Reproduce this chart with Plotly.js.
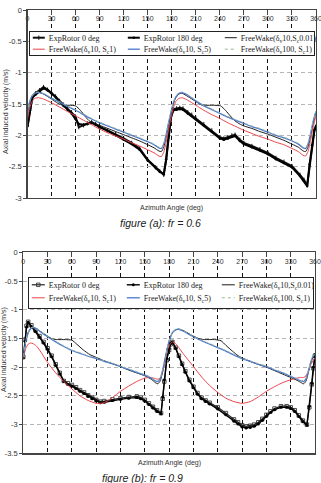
<!DOCTYPE html>
<html>
<head>
<meta charset="utf-8">
<script src="https://cdn.plot.ly/plotly-3.0.1.min.js"></script>
<style>
  html, body { margin: 0; padding: 0; background: #fff; }
  #chartA { width: 321px; height: 240px; }
  #chartB { width: 321px; height: 243px; }
</style>
</head>
<body>
<div id="chartA"></div>
<div id="chartB"></div>
<script>
// ---- axis ticks ----
const angleTicks = [0, 30, 60, 90, 120, 150, 180, 210, 240, 270, 300, 330, 360];
const angleTickText = ['0', '30', '60', '90', '120', '150', '180', '210', '240', '270', '300', '330', '360'];
const velTicksA = [-3, -2.5, -2, -1.5, -1, -0.5, 0];
const velTickTextA = ['-3', '-2.5', '-2', '-1.5', '-1', '-0.5', '0'];
const velTicksB = [-3.5, -3, -2.5, -2, -1.5, -1, -0.5, 0];
const velTickTextB = ['-3.5', '-3', '-2.5', '-2', '-1.5', '-1', '-0.5', '0'];

// ---- series names ----
const seriesNames = [
  'ExpRotor 0 deg',
  'ExpRotor 180 deg',
  'FreeWake(δ<sub>v</sub>10,S<sub>c</sub>0.01)',
  'FreeWake(δ<sub>v</sub>10, S<sub>c</sub>1)',
  'FreeWake(δ<sub>v</sub>10, S<sub>c</sub>5)',
  'FreeWake(δ<sub>v</sub>100, S<sub>c</sub>1)'
];
const captionA = 'figure (a): fr = 0.6';
const captionB = 'figure (b): fr = 0.9';
const xTitle = 'Azimuth Angle (deg)';
const yTitle = 'Axial induced velocity (m/s)';

// ================= figure (a): fr = 0.6 =================
const expDegA = [0,3,6,10,15,20,25,30,35,40,45,50,55,60,64,70,75,80,85,90,100,110,120,130,140,150,160,165,170,173,176,179,182,186,190,194,200,205,210,220,230,240,245,250,255,259,265,270,280,290,300,310,320,330,340,345,349,352,355,358,360];
const expA0 = [-1.87,-1.62,-1.39,-1.33,-1.28,-1.23,-1.27,-1.32,-1.38,-1.45,-1.51,-1.57,-1.63,-1.70,-1.87,-1.84,-1.81,-1.79,-1.82,-1.86,-1.92,-1.98,-2.05,-2.12,-2.21,-2.39,-2.51,-2.57,-2.63,-2.40,-2.05,-1.72,-1.58,-1.57,-1.56,-1.57,-1.63,-1.67,-1.72,-1.82,-1.92,-2.03,-2.05,-2.03,-2.00,-1.99,-2.07,-2.12,-2.17,-2.22,-2.28,-2.36,-2.42,-2.49,-2.63,-2.71,-2.80,-2.48,-2.18,-1.93,-1.86];
const expA180 = [-1.85,-1.60,-1.40,-1.35,-1.30,-1.25,-1.28,-1.33,-1.39,-1.46,-1.53,-1.59,-1.65,-1.74,-1.82,-1.83,-1.81,-1.80,-1.83,-1.87,-1.93,-2.00,-2.07,-2.14,-2.23,-2.40,-2.52,-2.58,-2.62,-2.38,-2.02,-1.70,-1.60,-1.59,-1.58,-1.59,-1.65,-1.69,-1.74,-1.84,-1.94,-2.05,-2.07,-2.05,-2.02,-2.01,-2.09,-2.14,-2.19,-2.24,-2.30,-2.38,-2.44,-2.51,-2.65,-2.73,-2.81,-2.46,-2.16,-1.91,-1.85];

const fwS001DegA = [0,2,5,9,14,20,30,38,44,52,60,66,72,78,85,90,100,110,120,130,140,150,158,164,167,170,173,176,179,182,185,189,193,200,210,216,222,232,241,247,253,259,265,270,280,290,300,310,320,330,338,344,347,350,353,356,359,360];
const fwS001A = [-1.68,-1.51,-1.39,-1.32,-1.31,-1.34,-1.42,-1.49,-1.52,-1.52,-1.53,-1.60,-1.70,-1.78,-1.82,-1.84,-1.89,-1.94,-1.99,-2.04,-2.09,-2.15,-2.20,-2.25,-2.26,-2.19,-2.03,-1.84,-1.66,-1.50,-1.40,-1.34,-1.33,-1.38,-1.46,-1.51,-1.52,-1.52,-1.53,-1.60,-1.69,-1.77,-1.82,-1.85,-1.89,-1.94,-1.98,-2.03,-2.08,-2.14,-2.19,-2.25,-2.26,-2.19,-2.03,-1.84,-1.68,-1.64];

const fwDegA = [0,2,5,9,14,20,30,40,50,60,70,80,90,100,110,120,130,140,150,158,164,167,170,173,176,179,182,185,189,193,200,210,220,230,240,250,260,270,280,290,300,310,320,330,338,344,347,350,353,356,359,360];
const fwS1A = [-1.74,-1.60,-1.48,-1.41,-1.40,-1.42,-1.48,-1.55,-1.62,-1.69,-1.76,-1.83,-1.90,-1.96,-2.01,-2.06,-2.12,-2.17,-2.23,-2.28,-2.33,-2.34,-2.27,-2.11,-1.91,-1.72,-1.56,-1.46,-1.41,-1.40,-1.44,-1.52,-1.60,-1.67,-1.73,-1.80,-1.86,-1.92,-1.97,-2.02,-2.06,-2.11,-2.15,-2.21,-2.26,-2.32,-2.33,-2.26,-2.10,-1.90,-1.74,-1.70];
const fwS5A = [-1.66,-1.50,-1.39,-1.33,-1.32,-1.34,-1.41,-1.47,-1.54,-1.60,-1.67,-1.74,-1.80,-1.85,-1.90,-1.95,-2.00,-2.05,-2.10,-2.15,-2.20,-2.21,-2.14,-1.99,-1.80,-1.63,-1.48,-1.39,-1.33,-1.32,-1.36,-1.45,-1.53,-1.59,-1.65,-1.71,-1.76,-1.81,-1.86,-1.90,-1.95,-2.00,-2.04,-2.09,-2.14,-2.20,-2.21,-2.14,-1.99,-1.80,-1.66,-1.62];
const fwD100A = [-1.65,-1.49,-1.38,-1.32,-1.31,-1.33,-1.40,-1.46,-1.53,-1.59,-1.66,-1.73,-1.79,-1.84,-1.89,-1.94,-1.99,-2.04,-2.09,-2.14,-2.19,-2.20,-2.13,-1.98,-1.79,-1.62,-1.47,-1.38,-1.32,-1.31,-1.35,-1.44,-1.52,-1.58,-1.64,-1.70,-1.75,-1.80,-1.85,-1.89,-1.94,-1.99,-2.03,-2.08,-2.13,-2.19,-2.20,-2.13,-1.98,-1.79,-1.65,-1.61];

// ================= figure (b): fr = 0.9 =================
const expDegB = [0,2,4,6,10,15,20,25,30,35,40,45,50,55,60,65,70,75,80,85,90,95,100,110,120,130,140,145,150,155,160,165,170,172,174,177,180,182,184,188,192,196,200,205,210,215,220,225,230,240,250,260,265,270,275,280,285,290,295,300,305,310,318,325,330,335,340,345,350,353,356,358,360];
const expB0 = [-1.82,-1.52,-1.28,-1.21,-1.27,-1.36,-1.46,-1.56,-1.67,-1.80,-1.95,-2.10,-2.24,-2.28,-2.31,-2.35,-2.40,-2.44,-2.49,-2.53,-2.57,-2.60,-2.59,-2.56,-2.54,-2.52,-2.51,-2.53,-2.57,-2.63,-2.69,-2.75,-2.80,-2.55,-2.25,-1.88,-1.70,-1.60,-1.56,-1.66,-1.80,-1.94,-2.07,-2.22,-2.34,-2.45,-2.53,-2.58,-2.62,-2.70,-2.80,-2.91,-2.96,-3.01,-3.03,-3.02,-3.00,-2.96,-2.90,-2.83,-2.77,-2.72,-2.68,-2.68,-2.70,-2.75,-2.84,-2.93,-3.00,-2.70,-2.30,-2.02,-1.80];
const expB180 = [-1.84,-1.55,-1.30,-1.22,-1.29,-1.38,-1.48,-1.58,-1.69,-1.82,-1.97,-2.12,-2.25,-2.30,-2.33,-2.37,-2.42,-2.46,-2.51,-2.55,-2.59,-2.62,-2.61,-2.58,-2.56,-2.54,-2.53,-2.55,-2.59,-2.65,-2.71,-2.77,-2.81,-2.52,-2.22,-1.85,-1.68,-1.59,-1.56,-1.67,-1.82,-1.96,-2.09,-2.24,-2.36,-2.47,-2.55,-2.60,-2.64,-2.73,-2.83,-2.94,-2.99,-3.04,-3.06,-3.05,-3.03,-2.99,-2.93,-2.86,-2.79,-2.74,-2.70,-2.70,-2.72,-2.77,-2.86,-2.95,-3.01,-2.68,-2.28,-2.00,-1.78];

const fwS001DegB = [0,3,6,9,12,16,20,30,36,42,52,60,66,74,82,90,100,110,120,130,140,150,158,163,166,169,172,175,178,181,184,188,192,197,210,218,224,236,244,250,258,265,270,280,290,300,310,320,330,338,343,346,349,352,355,358,360];
const fwS001B = [-1.82,-1.55,-1.40,-1.33,-1.31,-1.33,-1.37,-1.46,-1.51,-1.52,-1.52,-1.53,-1.60,-1.70,-1.78,-1.83,-1.89,-1.94,-1.99,-2.05,-2.10,-2.15,-2.21,-2.27,-2.29,-2.24,-2.08,-1.88,-1.66,-1.50,-1.40,-1.35,-1.34,-1.36,-1.46,-1.51,-1.52,-1.52,-1.54,-1.62,-1.72,-1.80,-1.84,-1.90,-1.95,-2.00,-2.06,-2.12,-2.18,-2.23,-2.27,-2.29,-2.24,-2.08,-1.92,-1.82,-1.80];

const fwDegB = [0,3,6,9,12,16,20,30,40,50,60,70,80,90,100,110,120,130,140,150,158,163,166,169,172,175,178,181,184,188,192,197,210,220,230,240,250,260,270,280,290,300,310,320,330,338,343,346,349,352,355,358,360];
const fwS1B = [-1.84,-1.68,-1.60,-1.58,-1.59,-1.63,-1.70,-1.92,-2.10,-2.25,-2.38,-2.50,-2.58,-2.63,-2.62,-2.53,-2.42,-2.33,-2.25,-2.19,-2.18,-2.20,-2.21,-2.19,-2.08,-1.88,-1.70,-1.60,-1.56,-1.59,-1.66,-1.76,-1.99,-2.17,-2.32,-2.44,-2.54,-2.60,-2.63,-2.60,-2.52,-2.42,-2.34,-2.27,-2.22,-2.19,-2.18,-2.18,-2.15,-2.06,-1.95,-1.88,-1.84];
const fwS5B = [-1.82,-1.55,-1.40,-1.33,-1.31,-1.33,-1.37,-1.47,-1.56,-1.64,-1.71,-1.76,-1.81,-1.85,-1.90,-1.94,-1.99,-2.04,-2.09,-2.14,-2.19,-2.24,-2.25,-2.20,-2.05,-1.85,-1.65,-1.50,-1.40,-1.35,-1.34,-1.37,-1.47,-1.54,-1.60,-1.66,-1.72,-1.79,-1.85,-1.90,-1.95,-1.99,-2.05,-2.10,-2.16,-2.21,-2.24,-2.25,-2.20,-2.06,-1.90,-1.80,-1.78];
const fwD100B = [-1.81,-1.54,-1.39,-1.32,-1.30,-1.32,-1.36,-1.46,-1.55,-1.63,-1.70,-1.75,-1.80,-1.84,-1.89,-1.93,-1.98,-2.03,-2.08,-2.13,-2.18,-2.23,-2.24,-2.19,-2.04,-1.84,-1.64,-1.49,-1.39,-1.34,-1.33,-1.36,-1.46,-1.53,-1.59,-1.65,-1.71,-1.78,-1.84,-1.89,-1.94,-1.98,-2.04,-2.09,-2.15,-2.20,-2.23,-2.24,-2.19,-2.05,-1.89,-1.79,-1.77];

// ---- trace styles ----
const styleExp0A  = { mode: 'lines+markers', line: { color: '#111', width: 2 }, marker: { symbol: 'line-ns-open', size: 3, color: '#111', line: { width: 1, color: '#111' } } };
const styleExp180A = { mode: 'lines+markers', line: { color: '#000', width: 2 }, marker: { symbol: 'circle', size: 2.5, color: '#000' } };
const styleExp0B  = { mode: 'lines+markers', line: { color: '#222', width: 1.2 }, marker: { symbol: 'square-open', size: 3.5, color: '#222', line: { width: 0.8, color: '#222' } } };
const styleExp180B = { mode: 'lines+markers', line: { color: '#000', width: 1.4 }, marker: { symbol: 'circle', size: 3, color: '#000' } };
const styleS001 = { mode: 'lines', line: { color: '#1a1a1a', width: 1, shape: 'spline', smoothing: 0.5 } };
const styleS1   = { mode: 'lines', line: { color: '#e8454a', width: 1, shape: 'spline', smoothing: 0.5 } };
const styleS5   = { mode: 'lines', line: { color: '#4a78cc', width: 1.3, shape: 'spline', smoothing: 0.5 } };
const styleD100 = { mode: 'lines', line: { color: '#9db59d', width: 1, dash: '3px,3px', shape: 'spline', smoothing: 0.5 } };

function series(x, y, name, style) {
  return Object.assign({ type: 'scatter', x: x, y: y, name: name, hoverinfo: 'skip' }, style);
}

const dataA = [
  series(expDegA, expA0, seriesNames[0], styleExp0A),
  series(expDegA, expA180, seriesNames[1], styleExp180A),
  series(fwS001DegA, fwS001A, seriesNames[2], styleS001),
  series(fwDegA, fwS1A, seriesNames[3], styleS1),
  series(fwDegA, fwS5A, seriesNames[4], styleS5),
  series(fwDegA, fwD100A, seriesNames[5], styleD100)
];
const dataB = [
  series(expDegB, expB0, seriesNames[0], styleExp0B),
  series(expDegB, expB180, seriesNames[1], styleExp180B),
  series(fwS001DegB, fwS001B, seriesNames[2], styleS001),
  series(fwDegB, fwS1B, seriesNames[3], styleS1),
  series(fwDegB, fwS5B, seriesNames[4], styleS5),
  series(fwDegB, fwD100B, seriesNames[5], styleD100)
];

const W = 321;
const titleFont = { family: 'Liberation Sans, Arial, sans-serif', size: 7, color: '#333' };
const capFont = { family: 'Liberation Sans, Arial, sans-serif', size: 10.5, color: '#222' };

// Builds one panel; all positions are pixels within that panel.
function panelLayout(p) {
  const px = v => v / W;
  const py = v => 1 - v / p.height;
  return {
    width: W, height: p.height, autosize: false,
    margin: { l: 0, r: 0, t: 0, b: 0, pad: 0 },
    paper_bgcolor: '#fff', plot_bgcolor: '#fff',
    font: { family: 'Liberation Sans, Arial, sans-serif', size: 7, color: '#333' },
    showlegend: true,
    xaxis: {
      domain: [px(p.left), px(p.right)], range: [0, 360], side: 'top',
      tickvals: angleTicks, ticktext: angleTickText,
      ticklabelposition: 'inside', ticklabeloverflow: 'allow',
      ticks: 'inside', ticklen: 5, tickwidth: 1, tickcolor: '#444',
      showgrid: true, gridcolor: '#111', griddash: '4px,3px', gridwidth: 1,
      showline: true, linecolor: '#444', linewidth: 1.2, mirror: true, zeroline: false,
      tickfont: { size: 7, color: '#333' }, fixedrange: true
    },
    yaxis: {
      domain: [py(p.bottom), py(p.top)], range: p.yRange,
      tickvals: p.yTicks, ticktext: p.yTickText,
      showgrid: true, gridcolor: '#b5b5b5', griddash: '4px,3px', gridwidth: 1,
      showline: true, linecolor: '#444', linewidth: 1.2, mirror: true, zeroline: false,
      ticks: 'outside', ticklen: 3, tickcolor: '#444',
      tickfont: { size: 7.5, color: '#333' }, fixedrange: true
    },
    legend: {
      orientation: 'h', xanchor: 'left', yanchor: 'top', x: px(p.legX), y: py(p.legY),
      bgcolor: '#fff', bordercolor: '#222', borderwidth: 1,
      font: { family: 'Liberation Serif, Times New Roman, serif', size: 8, color: '#222' },
      tracegroupgap: 0
    },
    annotations: [
      { text: yTitle, xref: 'paper', yref: 'paper', x: px(p.yTitleX), y: py(p.yTitleY), textangle: -90, showarrow: false, font: titleFont, xanchor: 'center', yanchor: 'middle' },
      { text: xTitle, xref: 'paper', yref: 'paper', x: px(p.xTitleX), y: py(p.xTitleY), showarrow: false, font: titleFont, xanchor: 'center', yanchor: 'middle' },
      { text: '<i>' + p.caption + '</i>', xref: 'paper', yref: 'paper', x: px(p.capX), y: py(p.capY), showarrow: false, font: capFont, xanchor: 'center', yanchor: 'middle' }
    ]
  };
}

const panelA = {
  height: 240, left: 27.5, right: 316, top: 10, bottom: 198,
  yRange: [-3, 0], yTicks: velTicksA, yTickText: velTickTextA,
  legX: 29.3, legY: 30.7, yTitleX: 6, yTitleY: 112, xTitleX: 172, xTitleY: 208,
  capX: 160.5, capY: 222.7, caption: captionA
};
const panelB = {
  height: 243, left: 23.3, right: 315, top: 12.3, bottom: 213.3,
  yRange: [-3.5, 0], yTicks: velTicksB, yTickText: velTickTextB,
  legX: 28.3, legY: 37.3, yTitleX: 4, yTitleY: 110, xTitleX: 170, xTitleY: 222.7,
  capX: 142, capY: 237.7, caption: captionB
};

// Compact 3 x 2 legend grid with short line samples.
const legendGridA = { cols: [3.5, 98.5, 195.5], rows: [7, 18.5], lineLen: 12, textX: 16, w: 285, h: 24.5 };
const legendGridB = { cols: [3.5, 98.5, 193.5], rows: [7.5, 20.5], lineLen: 13, textX: 17, w: 285, h: 31 };

function packLegend(gd, o) {
  const g = gd.querySelector('g.legend');
  if (!g) return;
  g.querySelectorAll('g.traces').forEach((item, i) => {
    item.setAttribute('transform', 'translate(' + o.cols[i % 3] + ',' + o.rows[Math.floor(i / 3) % 2] + ')');
    item.querySelectorAll('.legendlines path').forEach(path => path.setAttribute('d', 'M0,0h' + o.lineLen));
    item.querySelectorAll('.legendpoints .scatterpts').forEach(pt => pt.setAttribute('transform', 'translate(' + (o.lineLen / 2) + ',0)'));
    const t = item.querySelector('text.legendtext');
    if (t) t.setAttribute('x', o.textX);
  });
  const bg = g.querySelector('rect.bg');
  if (bg) { bg.setAttribute('width', o.w); bg.setAttribute('height', o.h); }
  g.querySelectorAll('.scrollbox').forEach(s => s.removeAttribute('clip-path'));
}

const config = { staticPlot: true, displayModeBar: false };
Plotly.newPlot('chartA', dataA, panelLayout(panelA), config).then(gd => {
  packLegend(gd, legendGridA);
  gd.on('plotly_afterplot', () => packLegend(gd, legendGridA));
});
Plotly.newPlot('chartB', dataB, panelLayout(panelB), config).then(gd => {
  packLegend(gd, legendGridB);
  gd.on('plotly_afterplot', () => packLegend(gd, legendGridB));
});
</script>
</body>
</html>
